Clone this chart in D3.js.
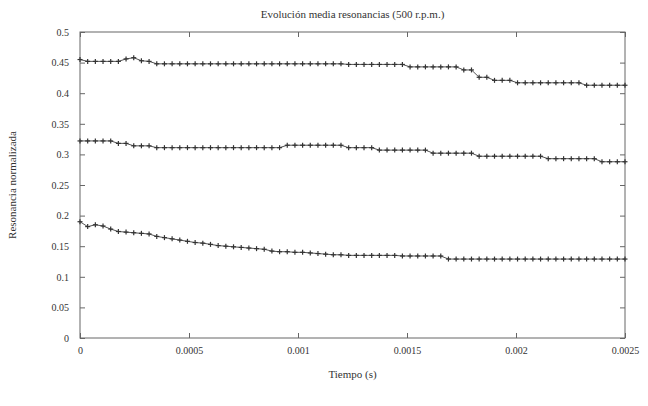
<html lang="es">
<head>
  <meta charset="UTF-8"/>
  <title>Evolucion media resonancias</title>
  <script src="https://d3js.org/d3.v7.min.js"></script>
  <style>
body { margin: 0; background: #fff; }
svg { display: block; }
text { font-family: 'Liberation Serif', 'DejaVu Serif', serif; fill: #333; }
.axis text { font-size: 10px; }
.axis path, .axis line { stroke: #666; }
text.title { font-size: 11px; }
text.label { font-size: 11px; }
.serie { fill: none; stroke: #555; stroke-width: 1; }
.marca { stroke: #333; stroke-width: 1.2; }
  </style>
</head>
<body>
<svg width="648" height="406"></svg>
<script>
// datos (72 muestras por serie)
const nMuestras = 72;
const tFinal = 0.0025;

const serieAlta = [
  0.455, 0.452, 0.452, 0.452, 0.452, 0.452, 0.456, 0.458, 0.453, 0.452,
  0.448, 0.448, 0.448, 0.448, 0.448, 0.448, 0.448, 0.448, 0.448, 0.448,
  0.448, 0.448, 0.448, 0.448, 0.448, 0.448, 0.448, 0.448, 0.448, 0.448,
  0.448, 0.448, 0.448, 0.448, 0.448, 0.447, 0.447, 0.447, 0.447, 0.447,
  0.447, 0.447, 0.447, 0.443, 0.443, 0.443, 0.443, 0.443, 0.443, 0.443,
  0.438, 0.438, 0.426, 0.426, 0.421, 0.421, 0.421, 0.417, 0.417, 0.417,
  0.417, 0.417, 0.417, 0.417, 0.417, 0.417, 0.413, 0.413, 0.413, 0.413,
  0.413, 0.413
];

const serieMedia = [
  0.322, 0.322, 0.322, 0.322, 0.322, 0.318, 0.318, 0.314, 0.314, 0.314,
  0.311, 0.311, 0.311, 0.311, 0.311, 0.311, 0.311, 0.311, 0.311, 0.311,
  0.311, 0.311, 0.311, 0.311, 0.311, 0.311, 0.311, 0.315, 0.315, 0.315,
  0.315, 0.315, 0.315, 0.315, 0.315, 0.311, 0.311, 0.311, 0.311, 0.307,
  0.307, 0.307, 0.307, 0.307, 0.307, 0.307, 0.302, 0.302, 0.302, 0.302,
  0.302, 0.302, 0.297, 0.297, 0.297, 0.297, 0.297, 0.297, 0.297, 0.297,
  0.297, 0.293, 0.293, 0.293, 0.293, 0.293, 0.293, 0.293, 0.288, 0.288,
  0.288, 0.288
];

const serieBaja = [
  0.190, 0.182, 0.185, 0.183, 0.178, 0.174, 0.173, 0.172, 0.171, 0.170,
  0.166, 0.164, 0.162, 0.160, 0.158, 0.156, 0.155, 0.153, 0.151, 0.150,
  0.149, 0.148, 0.147, 0.146, 0.145, 0.142, 0.141, 0.141, 0.140, 0.140,
  0.139, 0.138, 0.137, 0.136, 0.136, 0.135, 0.135, 0.135, 0.135, 0.135,
  0.135, 0.135, 0.134, 0.134, 0.134, 0.134, 0.134, 0.134, 0.129, 0.129,
  0.129, 0.129, 0.129, 0.129, 0.129, 0.129, 0.129, 0.129, 0.129, 0.129,
  0.129, 0.129, 0.129, 0.129, 0.129, 0.129, 0.129, 0.129, 0.129, 0.129,
  0.129, 0.129
];

const ticksX = [0, 0.0005, 0.001, 0.0015, 0.002, 0.0025];
const ticksY = [0, 0.05, 0.1, 0.15, 0.2, 0.25, 0.3, 0.35, 0.4, 0.45, 0.5];

const svg = d3.select('svg');
const mLeft = 80, mRight = 625, mTop = 32, mBottom = 338;

const x = d3.scaleLinear().domain([0, tFinal]).range([mLeft, mRight]);
const y = d3.scaleLinear().domain([0, 0.5]).range([mBottom, mTop]);
const tiempo = i => i * tFinal / (nMuestras - 1);

// marco
svg.append('rect')
  .attr('x', mLeft).attr('y', mTop)
  .attr('width', mRight - mLeft).attr('height', mBottom - mTop)
  .attr('fill', 'none').attr('stroke', '#666');

// ejes con marcas hacia dentro
svg.append('g').attr('class', 'axis')
  .attr('transform', `translate(0,${mBottom})`)
  .call(d3.axisBottom(x).tickValues(ticksX).tickSizeInner(-5).tickSizeOuter(0).tickPadding(9).tickFormat(d => String(+d.toFixed(4))));
svg.append('g').attr('class', 'axis')
  .attr('transform', `translate(0,${mTop})`)
  .call(d3.axisTop(x).tickValues(ticksX).tickSizeInner(-5).tickSizeOuter(0).tickFormat(''));
svg.append('g').attr('class', 'axis')
  .attr('transform', `translate(${mLeft},0)`)
  .call(d3.axisLeft(y).tickValues(ticksY).tickSizeInner(-5).tickSizeOuter(0).tickPadding(11).tickFormat(d => String(+d.toFixed(2))));
svg.append('g').attr('class', 'axis')
  .attr('transform', `translate(${mRight},0)`)
  .call(d3.axisRight(y).tickValues(ticksY).tickSizeInner(-5).tickSizeOuter(0).tickFormat(''));
svg.selectAll('.axis path.domain').remove();

// series
const linea = d3.line().x((d, i) => x(tiempo(i))).y(d => y(d));
[serieAlta, serieMedia, serieBaja].forEach(serie => {
  svg.append('path').attr('class', 'serie').attr('d', linea(serie));
  const g = svg.append('g');
  g.selectAll('line.h').data(serie).enter().append('line').attr('class', 'marca')
    .attr('x1', (d, i) => x(tiempo(i)) - 2.5).attr('x2', (d, i) => x(tiempo(i)) + 2.5)
    .attr('y1', d => y(d)).attr('y2', d => y(d));
  g.selectAll('line.v').data(serie).enter().append('line').attr('class', 'marca')
    .attr('x1', (d, i) => x(tiempo(i))).attr('x2', (d, i) => x(tiempo(i)))
    .attr('y1', d => y(d) - 2.5).attr('y2', d => y(d) + 2.5);
});

// textos
svg.append('text').attr('class', 'title')
  .attr('x', (mLeft + mRight) / 2).attr('y', 18)
  .attr('text-anchor', 'middle')
  .text('Evolución media resonancias (500 r.p.m.)');

svg.append('text').attr('class', 'label')
  .attr('x', (mLeft + mRight) / 2).attr('y', 378)
  .attr('text-anchor', 'middle')
  .text('Tiempo (s)');

svg.append('text').attr('class', 'label')
  .attr('transform', `translate(16,${(mTop + mBottom) / 2}) rotate(-90)`)
  .attr('text-anchor', 'middle')
  .text('Resonancia normalizada');
</script>
</body>
</html>
